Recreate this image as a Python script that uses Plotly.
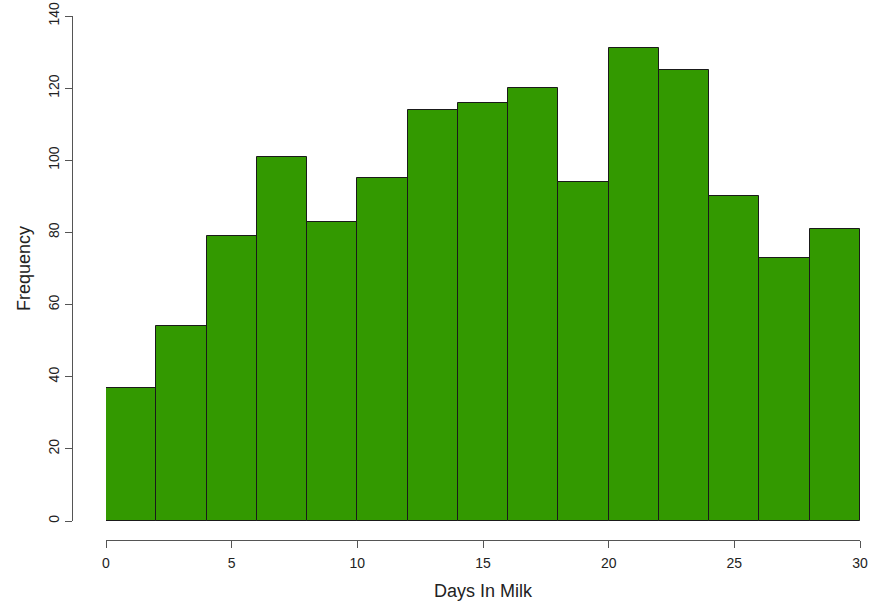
import plotly.graph_objects as go

# Histogram data: bins of width 2 from 0 to 30
bin_edges = [0, 2, 4, 6, 8, 10, 12, 14, 16, 18, 20, 22, 24, 26, 28, 30]
counts = [37, 54, 79, 101, 83, 95, 114, 116, 120, 94, 131, 125, 90, 73, 81]
x_ticks = [0, 5, 10, 15, 20, 25, 30]
y_ticks = [0, 20, 40, 60, 80, 100, 120, 140]

centers = [(a + b) / 2 for a, b in zip(bin_edges[:-1], bin_edges[1:])]
widths = [b - a for a, b in zip(bin_edges[:-1], bin_edges[1:])]

W, H = 879, 602
L, R, T, B = 72, 19, 16, 62
pw, ph = W - L - R, H - T - B

fig = go.Figure()
fig.add_trace(go.Bar(
    x=centers, y=counts, width=widths,
    marker=dict(color="#339900", line=dict(color="#1a1a1a", width=1)),
    hoverinfo="x+y",
))

font = dict(family="Liberation Sans, Arial, sans-serif", size=14, color="#222")

fig.update_layout(
    width=W, height=H,
    margin=dict(l=L, r=R, t=T, b=B, autoexpand=False),
    plot_bgcolor="white", paper_bgcolor="white",
    showlegend=False,
    font=font,
    bargap=0,
    xaxis=dict(
        domain=[(106 - L) / pw, 1], range=[0, 30],
        anchor="free", position=0, automargin=False,
        tickvals=x_ticks, ticks="outside", ticklen=7, tickcolor="#555",
        ticklabelstandoff=3,
        showline=True, linecolor="#555", linewidth=1,
        showgrid=False, zeroline=False,
        tickfont=dict(size=14, color="#222"),
        title=dict(text="Days In Milk", font=dict(size=18, color="#222"), standoff=14),
    ),
    yaxis=dict(
        domain=[(540 - 521) / ph, 1], range=[0, 140],
        anchor="free", position=0, automargin=False,
        tickvals=y_ticks, ticks="outside", ticklen=7, tickcolor="#555",
        tickangle=-90,
        showline=True, linecolor="#555", linewidth=1,
        showgrid=False, zeroline=False,
        tickfont=dict(size=14, color="#222"),
        title=dict(text="Frequency", font=dict(size=18, color="#222"), standoff=10),
    ),
)

fig.write_html(
    "out.html",
    config={"displayModeBar": False},
    post_script="document.body.style.margin='0';document.body.style.padding='0';",
)
